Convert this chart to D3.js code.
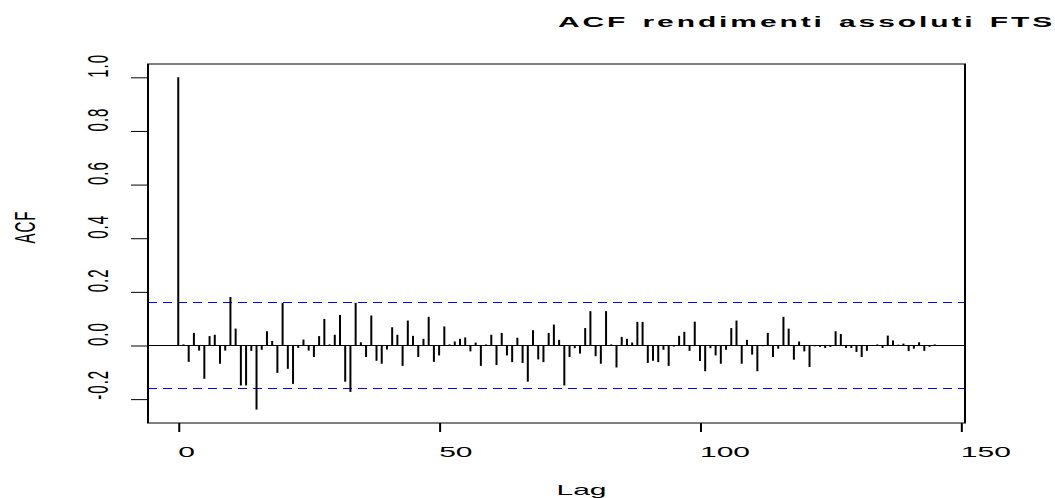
<!DOCTYPE html>
<html>
<head>
<meta charset="utf-8">
<script src="https://cdn.jsdelivr.net/npm/d3@7"></script>
<style>
body{margin:0;background:#fff;}
svg{display:block;font-family:"Liberation Sans",Arial,Helvetica,sans-serif;}
</style>
</head>
<body>
<div id="chart-area"></div>
<script>
// acf values, lag = position in the array (0..145)
var acfValues=[1.000,0.004,-0.061,0.047,-0.019,-0.124,0.035,0.040,-0.068,-0.019,
0.181,0.063,-0.149,-0.149,-0.020,-0.239,-0.016,0.053,0.017,-0.102,
0.159,-0.087,-0.143,-0.009,0.022,-0.019,-0.043,0.035,0.099,0.004,
0.040,0.114,-0.135,-0.173,0.159,0.012,-0.043,0.112,-0.057,-0.068,
-0.015,0.068,0.040,-0.076,0.093,0.036,-0.043,0.025,0.107,-0.061,
-0.037,0.071,0.004,0.015,0.025,0.030,-0.022,0.011,-0.076,0.004,
0.040,-0.073,0.047,-0.037,-0.062,0.029,-0.065,-0.135,0.057,-0.052,
-0.062,0.047,0.078,0.021,-0.149,-0.043,-0.010,-0.030,0.065,0.128,
-0.040,-0.068,0.128,0.004,-0.082,0.032,0.025,0.011,0.088,0.088,
-0.065,-0.057,-0.062,-0.016,-0.076,-0.004,0.036,0.051,-0.020,0.089,
-0.058,-0.096,-0.010,-0.037,-0.068,-0.016,0.065,0.093,-0.068,0.021,
-0.034,-0.096,-0.003,0.047,-0.043,-0.012,0.107,0.063,-0.053,0.015,
-0.022,-0.080,-0.003,-0.005,-0.009,-0.005,0.053,0.043,-0.009,-0.009,
-0.024,-0.043,-0.020,0.002,0.004,-0.009,0.037,0.019,0.003,0.007,
-0.021,-0.012,0.012,-0.020,-0.005,0.004];
var xTicks=[0,50,100,150];
var yTicks=[-0.2,0,0.2,0.4,0.6,0.8,1.0];
var yTickLabels=["-0.2","0.0","0.2","0.4","0.6","0.8","1.0"];
var clim=0.16;
var title="ACF rendimenti assoluti FTSE MIB";

var W=1055,H=498;
// the picture is stretched 2x horizontally, so draw in half-width units
var box={left:74,right:482.5,top:64,bottom:423};

var svg=d3.select("#chart-area").append("svg")
  .attr("width",W).attr("height",H);
svg.append("rect").attr("width",W).attr("height",H).attr("fill","#fff");

var g=svg.append("g").attr("transform","scale(2,1)");

var x=d3.scaleLinear().domain([-5.8,150.8]).range([box.left,box.right]);
var y=d3.scaleLinear().domain([-0.289,1.0496]).range([box.bottom,box.top]);

//confidence lines
[clim,-clim].forEach(function(c){
  g.append("line")
   .attr("x1",box.left).attr("x2",box.right)
   .attr("y1",y(c)).attr("y2",y(c))
   .attr("stroke","blue").attr("stroke-width",1)
   .attr("stroke-dasharray","4.5,3");
});

//zero line
g.append("line")
 .attr("x1",box.left).attr("x2",box.right)
 .attr("y1",y(0)).attr("y2",y(0))
 .attr("stroke","#000").attr("stroke-width",1);

//bars
g.selectAll("line.bar").data(acfValues).enter()
 .append("line").attr("class","bar")
 .attr("x1",function(d,i){return x(i);})
 .attr("x2",function(d,i){return x(i);})
 .attr("y1",y(0))
 .attr("y2",function(d){return y(d);})
 .attr("stroke","#000").attr("stroke-width",1);

//box
g.append("rect")
 .attr("x",box.left).attr("y",box.top)
 .attr("width",box.right-box.left).attr("height",box.bottom-box.top)
 .attr("fill","none").attr("stroke","#000").attr("stroke-width",1);

//x axis
var xAxis=g.append("g").attr("transform","translate(0,"+box.bottom+")")
 .call(d3.axisBottom(x).tickValues(xTicks).tickSize(9).tickSizeOuter(0));
xAxis.select(".domain").remove();
xAxis.selectAll("line").attr("stroke","#000");
xAxis.selectAll("text")
 .attr("text-anchor","start").attr("x",-0.5).attr("y",34).attr("dy",null)
 .attr("fill","#000").style("font-size","15px")
 .style("font-family","'Liberation Sans',Arial,Helvetica,sans-serif");

//y axis
var yAxis=g.append("g").attr("transform","translate("+box.left+",0)")
 .call(d3.axisLeft(y).tickValues(yTicks).tickSize(8.5).tickSizeOuter(0)
   .tickFormat(function(d,i){return yTickLabels[i];}));
yAxis.select(".domain").remove();
yAxis.selectAll("line").attr("stroke","#000");
yAxis.selectAll("text")
 .attr("x",null).attr("dy",null)
 .attr("transform","translate(-20,0) rotate(-90)")
 .attr("text-anchor","start")
 .attr("fill","#000").style("font-size","15px").style("letter-spacing","1px")
 .style("font-family","'Liberation Sans',Arial,Helvetica,sans-serif");

//labels
g.append("text")
 .attr("x",278.25).attr("y",495)
 .attr("text-anchor","start")
 .style("font-size","15px")
 .text("Lag");

g.append("text")
 .attr("transform","translate(17.5,243.5) rotate(-90)")
 .attr("text-anchor","start")
 .style("font-size","15px").style("letter-spacing","1px")
 .text("ACF");

g.append("text")
 .attr("x",279).attr("y",27)
 .attr("text-anchor","start")
 .style("font-size","15px").style("font-weight","bold")
 .style("letter-spacing","1.45px").style("word-spacing","1.5px")
 .text(title);
</script>
</body>
</html>
